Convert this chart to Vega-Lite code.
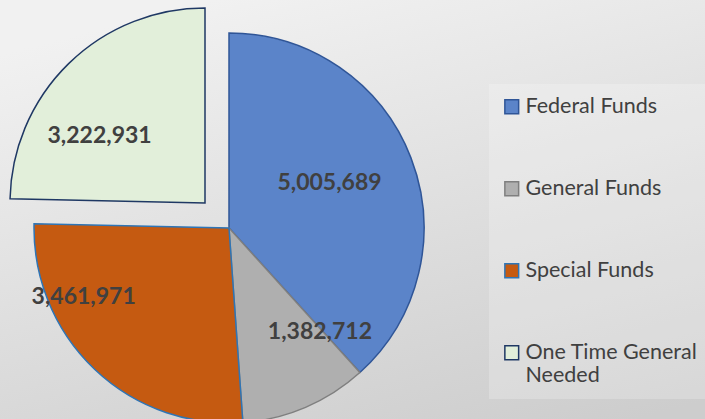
{
  "$schema": "https://vega.github.io/schema/vega-lite/v6.json",
  "width": 458,
  "height": 456,
  "padding": {"left": 0, "top": 0, "right": 247, "bottom": 0},
  "autosize": {"type": "none"},
  "background": "#e0e0e0",
  "config": {
    "view": {"stroke": null},
    "legend": {
      "orient": "none",
      "legendX": 489,
      "legendY": 84,
      "padding": 12,
      "fillColor": "rgba(255,255,255,0.22)",
      "symbolType": "square",
      "symbolSize": 190,
      "symbolStrokeWidth": 1.5,
      "labelFont": "Lato",
      "labelFontSize": 21.5,
      "labelColor": "#404040",
      "labelOffset": 3,
      "labelLimit": 300,
      "rowPadding": 59,
      "title": null
    }
  },
  "data": {
    "values": [
      {"name": "Federal Funds", "value": 5005689, "ord": 1},
      {"name": "General Funds", "value": 1382712, "ord": 2},
      {"name": "Special Funds", "value": 3461971, "ord": 3},
      {"name": "One Time General Needed", "value": 3222931, "ord": 4}
    ]
  },
  "layer": [
    {
      "data": {"values": [{}]},
      "mark": {
        "type": "rect",
        "x": 0,
        "x2": {"expr": "width + 247"},
        "y": 0,
        "y2": {"expr": "height"},
        "color": {
          "gradient": "linear",
          "x1": 0.3, "y1": 0, "x2": 0.7, "y2": 1,
          "stops": [
            {"offset": 0, "color": "#f1f1f1"},
            {"offset": 1, "color": "#cdcdcd"}
          ]
        }
      },
      "encoding": {}
    },
    {
      "mark": {"type": "arc", "strokeWidth": 1.5, "outerRadius": 195},
      "encoding": {
        "theta": {"field": "value", "type": "quantitative", "stack": true},
        "order": {"field": "ord", "type": "quantitative"},
        "fill": {
          "field": "name", "type": "nominal", "title": null,
          "scale": {
            "domain": ["Federal Funds", "General Funds", "Special Funds", "One Time General Needed"],
            "range": ["#5b84c9", "#afafaf", "#c55a11", "#e2efda"]
          },
          "legend": {"labelExpr": "datum.label == 'One Time General Needed' ? ['One Time General', 'Needed'] : datum.label"}
        },
        "stroke": {
          "field": "name", "type": "nominal", "title": null,
          "scale": {
            "domain": ["Federal Funds", "General Funds", "Special Funds", "One Time General Needed"],
            "range": ["#2f5597", "#7f7f7f", "#2e75b6", "#1f3864"]
          },
          "legend": {"labelExpr": "datum.label == 'One Time General Needed' ? ['One Time General', 'Needed'] : datum.label"}
        },
        "opacity": {"condition": {"test": "datum.name == 'One Time General Needed'", "value": 0}, "value": 1}
      }
    },
    {
      "mark": {"type": "arc", "strokeWidth": 1.5, "outerRadius": 195, "xOffset": -24, "yOffset": -25},
      "encoding": {
        "theta": {"field": "value", "type": "quantitative", "stack": true},
        "order": {"field": "ord", "type": "quantitative"},
        "fill": {"field": "name", "type": "nominal", "title": null},
        "stroke": {"field": "name", "type": "nominal", "title": null},
        "opacity": {"condition": {"test": "datum.name == 'One Time General Needed'", "value": 1}, "value": 0}
      }
    },
    {
      "mark": {"type": "text", "radius": 110, "thetaOffset": -0.05, "font": "Lato", "fontWeight": "bold", "fontSize": 23, "color": "#404040", "baseline": "middle", "align": "center"},
      "encoding": {
        "theta": {"field": "value", "type": "quantitative", "stack": true},
        "order": {"field": "ord", "type": "quantitative"},
        "text": {"condition": {"test": "datum.name == 'Federal Funds'", "field": "value", "type": "quantitative", "format": ",d"}, "value": ""}
      }
    },
    {
      "mark": {"type": "text", "radius": 138, "thetaOffset": -0.316, "font": "Lato", "fontWeight": "bold", "fontSize": 23, "color": "#404040", "baseline": "middle", "align": "center"},
      "encoding": {
        "theta": {"field": "value", "type": "quantitative", "stack": true},
        "order": {"field": "ord", "type": "quantitative"},
        "text": {"condition": {"test": "datum.name == 'General Funds'", "field": "value", "type": "quantitative", "format": ",d"}, "value": ""}
      }
    },
    {
      "mark": {"type": "text", "radius": 161, "thetaOffset": 0.365, "font": "Lato", "fontWeight": "bold", "fontSize": 23, "color": "#404040", "baseline": "middle", "align": "center"},
      "encoding": {
        "theta": {"field": "value", "type": "quantitative", "stack": true},
        "order": {"field": "ord", "type": "quantitative"},
        "text": {"condition": {"test": "datum.name == 'Special Funds'", "field": "value", "type": "quantitative", "format": ",d"}, "value": ""}
      }
    },
    {
      "mark": {"type": "text", "radius": 125, "thetaOffset": -0.229, "xOffset": -24, "yOffset": -25, "font": "Lato", "fontWeight": "bold", "fontSize": 23, "color": "#404040", "baseline": "middle", "align": "center"},
      "encoding": {
        "theta": {"field": "value", "type": "quantitative", "stack": true},
        "order": {"field": "ord", "type": "quantitative"},
        "text": {"condition": {"test": "datum.name == 'One Time General Needed'", "field": "value", "type": "quantitative", "format": ",d"}, "value": ""}
      }
    }
  ]
}
